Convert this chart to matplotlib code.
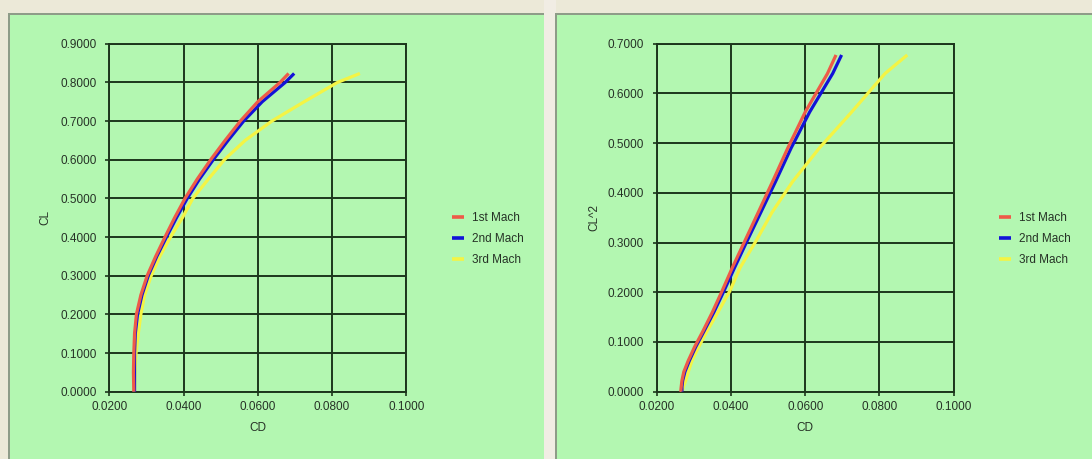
import matplotlib
matplotlib.use("Agg")
import matplotlib.pyplot as plt
from matplotlib.patches import Rectangle
from matplotlib.ticker import FormatStrFormatter, MultipleLocator
import numpy as np

plt.rcParams['font.family'] = ['Liberation Sans', 'DejaVu Sans']

# Lift coefficient stations shared by the three Mach cases
cl = np.array([0.00, 0.05, 0.10, 0.15, 0.20, 0.25, 0.30, 0.35, 0.40, 0.45,
               0.50, 0.55, 0.60, 0.65, 0.70, 0.75, 0.80, 0.823])

# Drag coefficient for each Mach number
cd_mach1 = np.array([0.0266, 0.0265, 0.0266, 0.0268, 0.0273, 0.0285, 0.0302,
                     0.0325, 0.0350, 0.0376, 0.0404, 0.0437, 0.0473, 0.0512,
                     0.0553, 0.0600, 0.0660, 0.0683])
cd_mach2 = np.array([0.0268, 0.0268, 0.0268, 0.0270, 0.0276, 0.0288, 0.0305,
                     0.0328, 0.0354, 0.0381, 0.0410, 0.0443, 0.0480, 0.0520,
                     0.0562, 0.0612, 0.0674, 0.0698])
cd_mach3 = np.array([0.0268, 0.0269, 0.0272, 0.0278, 0.0285, 0.0295, 0.0313,
                     0.0336, 0.0365, 0.0397, 0.0425, 0.0467, 0.0510, 0.0566,
                     0.0638, 0.0725, 0.0815, 0.0875])

series_labels = ['1st Mach', '2nd Mach', '3rd Mach']
series_colors = ['#EE5A48', '#1212D8', '#F4F444']
series_z = [4, 3, 2]

x_ticks = [0.02, 0.04, 0.06, 0.08, 0.10]
y_max_left = 0.9
y_max_right = 0.7

W, H = 1092, 459
GREEN = '#B3F7B1'
BEIGE = '#ECE9D8'
EDGE = '#8E9C88'
GRID = '#1C361C'
TEXT = '#263226'

fig = plt.figure(figsize=(W / 100, H / 100), dpi=100, facecolor=BEIGE)


def rect(x0, y0, x1, y1, color):
    fig.patches.append(Rectangle((x0 / W, 1 - y1 / H), (x1 - x0) / W, (y1 - y0) / H,
                                 transform=fig.transFigure, facecolor=color,
                                 edgecolor='none', zorder=-10))


# panel frames
rect(544, 0, 556, H, '#F1EDE4')
rect(8, 13, 544, H, EDGE)
rect(10, 15, 544, H, GREEN)
rect(555, 13, W, H, EDGE)
rect(557, 15, W, H, GREEN)


def make_axes(left_px, ylabel, ymax, yvals_fn):
    ax = fig.add_axes([left_px / W, 1 - 391.7 / H, 297.0 / W, 348.0 / H])
    ax.set_facecolor('none')
    cds = [cd_mach1, cd_mach2, cd_mach3]
    handles = []
    for cd, lab, col, z in zip(cds, series_labels, series_colors, series_z):
        h, = ax.plot(cd, yvals_fn(cl), color=col, lw=2.3, label=lab, zorder=z,
                     solid_capstyle='butt')
        handles.append(h)
    ax.set_xlim(x_ticks[0], x_ticks[-1])
    ax.set_ylim(0, ymax)
    ax.set_xticks(x_ticks)
    ax.yaxis.set_major_locator(MultipleLocator(0.1))
    ax.xaxis.set_major_formatter(FormatStrFormatter('%.4f'))
    ax.yaxis.set_major_formatter(FormatStrFormatter('%.4f'))
    ax.grid(True, color=GRID, lw=1.4)
    ax.set_axisbelow(True)
    for s in ax.spines.values():
        s.set_color(GRID)
        s.set_linewidth(1.4)
    ax.tick_params(axis='both', colors=GRID, length=3, width=1.2,
                   labelsize=8.5, labelcolor=TEXT)
    ax.tick_params(axis='y', pad=6.3)
    ax.tick_params(axis='x', pad=4.0)
    ax.set_xlabel('CD', fontsize=8.5, color=TEXT)
    ax.xaxis.set_label_coords(0.5, (391.7 - 427.7) / 348.0)
    ax.xaxis.label.set_va('center')
    ax.set_ylabel(ylabel, fontsize=8.5, color=TEXT)
    ax.yaxis.label.set_va('center')
    return ax, handles


ax1, h1 = make_axes(109.3, 'CL', y_max_left, lambda c: c)
ax1.yaxis.set_label_coords((45.3 - 109.3) / 297.0, 0.5)
ax2, h2 = make_axes(656.7, 'CL^2', y_max_right, lambda c: c ** 2)
ax2.yaxis.set_label_coords((594.7 - 656.7) / 297.0, 0.5)

for ax, hs, lx in [(ax1, h1, 451.7), (ax2, h2, 998.6)]:
    leg = ax.legend(handles=hs, loc='center left',
                    bbox_to_anchor=(lx / W, 1 - 239.3 / H),
                    bbox_transform=fig.transFigure, frameon=False,
                    fontsize=8.5, handlelength=1.05, handletextpad=0.65,
                    labelspacing=0.75, borderpad=0, borderaxespad=0)
    for t in leg.get_texts():
        t.set_color(TEXT)
    for l in leg.get_lines():
        l.set_linewidth(2.6)

fig.savefig('out.png', dpi=100, facecolor=BEIGE)
